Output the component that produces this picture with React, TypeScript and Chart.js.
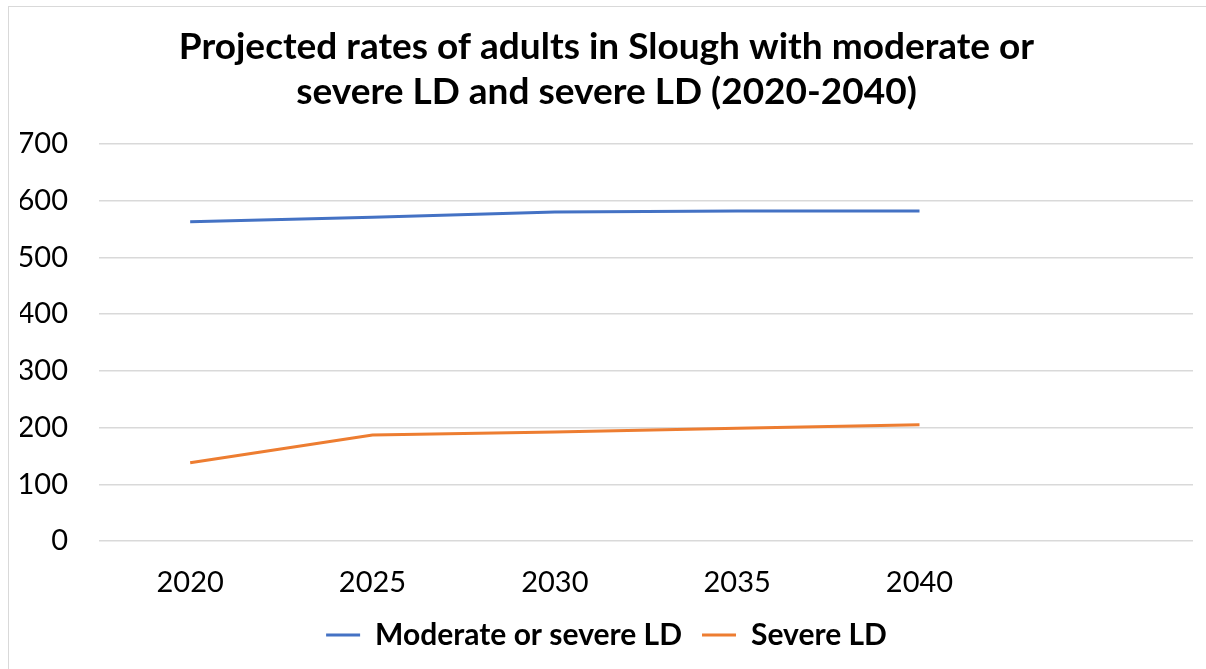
import React, { useEffect, useRef } from "react";
import { Chart, registerables } from "chart.js";

Chart.register(...registerables);

const categories = ["2020", "2025", "2030", "2035", "2040", ""];
const moderateOrSevere = [563, 571, 580, 582, 582, null];
const severe = [138, 187, 192, 199, 205, null];
const titleLines = [
  "Projected rates of adults in Slough with moderate or",
  "severe LD and severe LD (2020-2040)",
];

const FONT = "Lato, 'Open Sans', sans-serif";

export default function App() {
  const ref = useRef<HTMLCanvasElement>(null);
  useEffect(() => {
    if (!ref.current) return;
    const chart = new Chart(ref.current, {
      type: "line",
      data: {
        labels: categories,
        datasets: [
          {
            label: "Moderate or severe LD",
            data: moderateOrSevere,
            borderColor: "#4472C4",
            backgroundColor: "#4472C4",
            borderWidth: 3,
            pointRadius: 0,
            tension: 0,
          },
          {
            label: "Severe LD",
            data: severe,
            borderColor: "#ED7D31",
            backgroundColor: "#ED7D31",
            borderWidth: 3,
            pointRadius: 0,
            tension: 0,
          },
        ],
      },
      options: {
        animation: false,
        responsive: false,
        maintainAspectRatio: false,
        layout: { padding: { left: 20, right: 13, top: 18, bottom: 9 } },
        plugins: {
          title: {
            display: true,
            text: titleLines,
            color: "#000",
            font: { family: FONT, size: 37, weight: "bold", lineHeight: 1.216 },
            padding: { top: 6.5, bottom: 29.5 },
          },
          legend: {
            position: "bottom",
            labels: {
              color: "#000",
              font: { family: FONT, size: 30, weight: "bold" },
              usePointStyle: true,
              pointStyle: "line",
              pointStyleWidth: 34,
              boxHeight: 3,
              padding: 20,
            },
          },
          tooltip: { enabled: false },
        },
        scales: {
          x: {
            offset: true,
            grid: { display: false, drawTicks: false },
            border: { display: false },
            ticks: {
              color: "#000",
              font: { family: FONT, size: 29 },
              padding: 24,
              maxRotation: 0,
            },
            afterFit: (scale: any) => {
              scale.height = 59;
            },
          },
          y: {
            min: 0,
            max: 700,
            grid: { color: "#d9d9d9", lineWidth: 1.5, drawTicks: false },
            border: { display: false },
            ticks: {
              stepSize: 100,
              color: "#000",
              font: { family: FONT, size: 29 },
              padding: 31,
            },
            afterFit: (scale: any) => {
              scale.width = 79;
            },
          },
        },
      },
    });
    return () => chart.destroy();
  }, []);
  return (
    <div style={{ position: "absolute", left: 0, top: 0, width: 1206, height: 669, background: "#fff" }}>
      <div
        style={{
          position: "absolute",
          left: 8,
          top: 6,
          width: 1210,
          height: 680,
          border: "1.5px solid #d9d9d9",
          boxSizing: "border-box",
        }}
      />
      <canvas ref={ref} width={1206} height={669} style={{ position: "absolute", left: 0, top: 0 }} />
    </div>
  );
}
